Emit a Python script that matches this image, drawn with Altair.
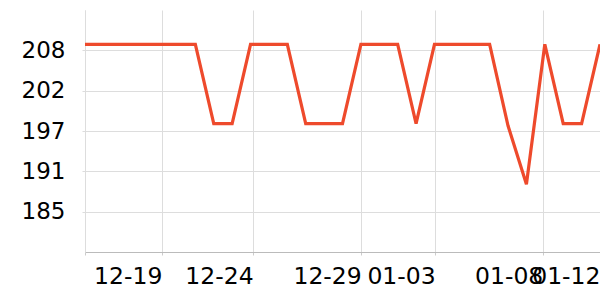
import altair as alt
import pandas as pd

# point index (evenly spaced samples) and values
idx = list(range(29))
values = [208.85, 208.85, 208.85, 208.85, 208.85, 208.85, 208.85,
          197.7, 197.7,
          208.85, 208.85, 208.85,
          197.7, 197.7, 197.7,
          208.85, 208.85, 208.85,
          197.7,
          208.85, 208.85, 208.85, 208.85,
          197.4, 189.2,
          208.85,
          197.7, 197.7,
          208.85]

tick_pos = [0, 4.18, 9.14, 15.02, 19.04, 24.89, 28]
tick_labels = ["", "12-19", "12-24", "12-29", "01-03", "01-08", "01-12"]

y_domain = [179.67, 213.67]
y_ticks = [185.33, 191.0, 196.67, 202.33, 208.0]

df = pd.DataFrame({"i": idx, "v": values})

label_expr = "[" + ",".join("'%s'" % l for l in tick_labels) + "][indexof([" + \
    ",".join(str(p) for p in tick_pos) + "], datum.value)]"

chart = alt.Chart(df).mark_line(color="#ee4a2c", strokeWidth=3.2).encode(
    x=alt.X("i:Q", scale=alt.Scale(domain=[0, 28], nice=False, zero=False),
            axis=alt.Axis(values=tick_pos, labelExpr=label_expr, title=None,
                          labelAlign="right", labelFontSize=23.5, labelFont="DejaVu Sans",
                          labelColor="#000", tickSize=3, tickColor="#cccccc",
                          domainColor="#bbbbbb", gridColor="#dddddd",
                          labelPadding=9, labelFlush=False, labelOverlap=False,
                          labelBound=False)),
    y=alt.Y("v:Q", scale=alt.Scale(domain=y_domain, nice=False, zero=False),
            axis=alt.Axis(values=y_ticks, format=".0f", title=None,
                          labelFontSize=23, labelFont="DejaVu Sans", labelColor="#000",
                          tickSize=3, tickColor="#dddddd", domainColor="#dddddd",
                          gridColor="#dddddd", labelPadding=17, labelOverlap=False)),
).properties(
    width=515, height=242,
    padding={"left": 85, "top": 10, "right": 0, "bottom": 48},
    autosize="none",
).configure_view(stroke=None)

chart.save("out.html", embed_options={"renderer": "svg", "actions": False})
